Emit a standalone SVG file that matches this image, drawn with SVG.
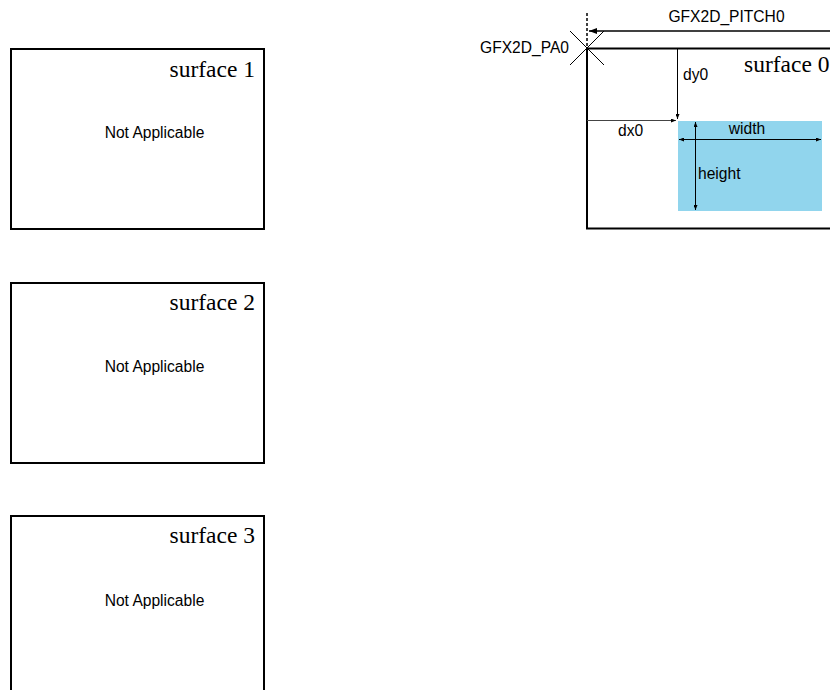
<svg xmlns="http://www.w3.org/2000/svg" width="830" height="690" viewBox="0 0 830 690">
<style>
.box{fill:#fff;stroke:#000;stroke-width:2}
.ser{font-family:"Liberation Serif",serif;font-size:23.5px;fill:#000}
.san{font-family:"Liberation Sans",Arial,sans-serif;font-size:15.6px;fill:#000}
.ln{stroke:#000;stroke-width:1;fill:none}
</style>
<defs>
<marker id="ah" markerWidth="8" markerHeight="6" refX="8" refY="3" orient="auto-start-reverse" markerUnits="userSpaceOnUse">
<path d="M0,0 L8,3 L0,6 z" fill="#000"/>
</marker>
<marker id="as" markerWidth="5" markerHeight="4" refX="5" refY="2" orient="auto-start-reverse" markerUnits="userSpaceOnUse">
<path d="M0,0 L5,2 L0,4 z" fill="#000"/>
</marker>
</defs>
<g id="surface1">
<rect class="box" x="11" y="49" width="253" height="180"/>
<text class="ser" x="255" y="77" text-anchor="end">surface 1</text>
<text class="san" x="154.5" y="138" text-anchor="middle">Not Applicable</text>
</g>
<g id="surface2">
<rect class="box" x="11" y="283" width="253" height="180"/>
<text class="ser" x="255" y="310" text-anchor="end">surface 2</text>
<text class="san" x="154.5" y="372" text-anchor="middle">Not Applicable</text>
</g>
<g id="surface3">
<path class="box" d="M11,700 V516 H264 V700"/>
<text class="ser" x="255" y="543" text-anchor="end">surface 3</text>
<text class="san" x="154.5" y="606" text-anchor="middle">Not Applicable</text>
</g>
<g id="surface0">
<path class="box" d="M840,48.5 H587 V228.5 H840"/>
<text class="ser" x="744" y="72">surface 0</text>
</g>
<g id="region">
<rect x="678" y="121" width="144" height="90" fill="#91D5ED"/>
</g>
<g id="connectors">
<line x1="587" y1="13" x2="587" y2="48" stroke="#000" stroke-width="1.5" stroke-dasharray="3,2"/>
<line class="ln" x1="570" y1="31" x2="604" y2="65"/>
<line class="ln" x1="604" y1="31" x2="570" y2="65"/>
<line x1="589" y1="31" x2="840" y2="31" stroke="#000" stroke-width="1.5" marker-start="url(#ah)"/>
<line class="ln" x1="677.5" y1="48" x2="677.5" y2="119" marker-end="url(#as)"/>
<line x1="587" y1="120.5" x2="676" y2="120.5" stroke="#444" stroke-width="1" marker-end="url(#as)"/>
<line class="ln" x1="679" y1="139.5" x2="821" y2="139.5" marker-start="url(#as)" marker-end="url(#as)"/>
<line class="ln" x1="695.5" y1="122" x2="695.5" y2="210" marker-start="url(#as)" marker-end="url(#as)"/>
</g>
<g id="labels">
<text class="san" x="569" y="53" text-anchor="end">GFX2D_PA0</text>
<text class="san" x="726.5" y="22" text-anchor="middle">GFX2D_PITCH0</text>
<text class="san" x="683" y="80">dy0</text>
<text class="san" x="618" y="136">dx0</text>
<text class="san" x="747" y="134" text-anchor="middle">width</text>
<text class="san" x="698" y="179">height</text>
</g>
</svg>
